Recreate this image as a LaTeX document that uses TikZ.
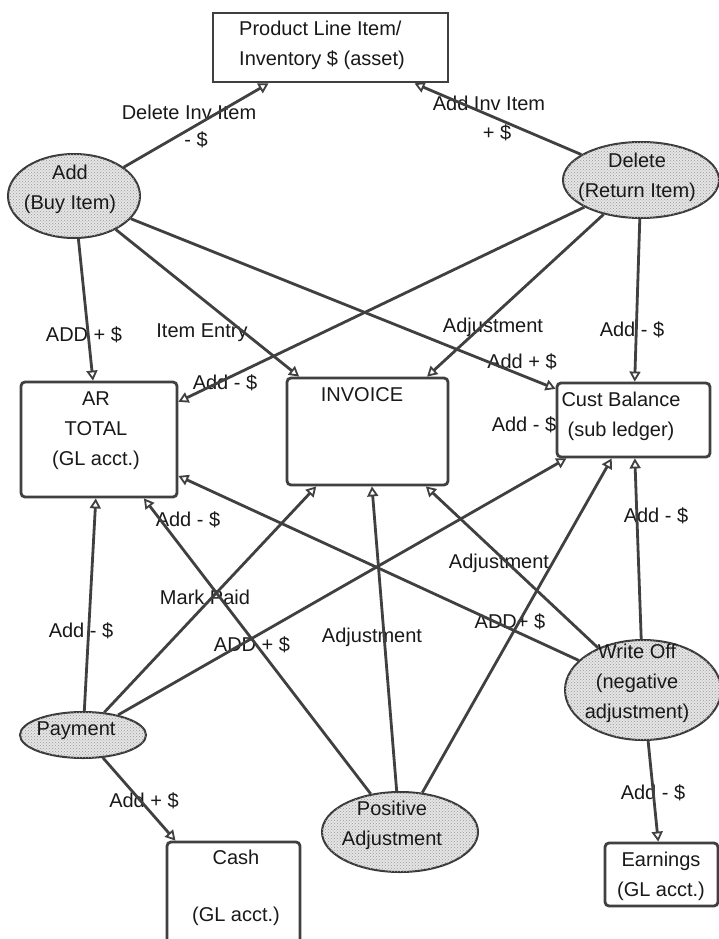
\documentclass[tikz,border=0pt]{standalone}
\usepackage{fontspec}
\setmainfont{Liberation Sans}
\usetikzlibrary{shapes.geometric,arrows.meta,patterns}
\begin{document}
\begin{tikzpicture}[x=1pt,y=-1pt,
  every node/.style={font=\fontsize{20}{30}\selectfont, inner sep=0pt, text=black!90},
  box/.style={draw=black!75, line width=2.8pt, rounded corners=4pt, fill=white},
  oval/.style={ellipse, draw=black!78, line width=2pt, fill=black!10,
    postaction={pattern=crosshatch dots, pattern color=black!40}},
  txt/.style={align=center},
  conn/.style={draw=black!75, line width=2.8pt,
    -{Triangle[open, length=10pt, width=11pt, line width=1.8pt]}}
]
\clip (0,0) rectangle (719,939);
\fill[white] (0,0) rectangle (719,939);

% accounts and documents
\node[box, rounded corners=0pt, minimum width=235pt, minimum height=69pt] (inv) at (330.5,47.5) {};
\node[txt, align=left] (invtxt) at (322,45) {Product Line Item/\\Inventory \$ (asset)};
\node[box, minimum width=156pt, minimum height=115pt] (ar) at (99,439.5) {};
\node[txt] (artxt) at (96,431) {AR\\TOTAL\\(GL acct.)};
\node[box, minimum width=161pt, minimum height=107pt] (invoice) at (367.5,431.5) {};
\node[txt] (invoicetxt) at (362,395) {INVOICE};
\node[box, minimum width=153pt, minimum height=74pt] (cust) at (633.5,420) {};
\node[txt] (custtxt) at (621,416) {Cust Balance\\(sub ledger)};
\node[box, minimum width=113pt, minimum height=63pt] (earn) at (661.5,874.5) {};
\node[txt] (earntxt) at (661,876) {Earnings\\(GL acct.)};
\node[box, minimum width=133pt, minimum height=130pt] (cash) at (233.5,907) {};
\node[txt, font=\fontsize{20}{28.5}\selectfont] (cashtxt) at (236,888) {Cash\\[28.5pt](GL acct.)};

% events
\node[oval, minimum width=132pt, minimum height=84pt] (add) at (74,196) {};
\node[txt] (addtxt) at (70,189) {Add\\(Buy Item)};
\node[oval, minimum width=156pt, minimum height=76pt] (del) at (641,180) {};
\node[txt] (deltxt) at (637,177) {Delete\\(Return Item)};
\node[oval, minimum width=126pt, minimum height=46pt] (pay) at (83,735) {};
\node[txt] (paytxt) at (76,731) {Payment};
\node[oval, minimum width=156pt, minimum height=80pt] (pos) at (400,832) {};
\node[txt] (postxt) at (392,825) {Positive\\Adjustment};
\node[oval, minimum width=156pt, minimum height=100pt] (wo) at (643,690) {};
\node[txt] (wotxt) at (637,683) {Write Off\\(negative\\adjustment)};

% connector labels
\node (l1) at (189,112) {Delete Inv Item};
\node (l2) at (196,140) {- \$};
\node (l3) at (489,103) {Add Inv Item};
\node (l4) at (497,133) {+ \$};
\node (l5) at (84,335) {ADD + \$};
\node (l6) at (202,333) {Item Entry};
\node (l7) at (493,327) {Adjustment};
\node (l8) at (632,330) {Add - \$};
\node (l9) at (522,362) {Add + \$};
\node (l10) at (225,383) {Add - \$};
\node (l11) at (524,425) {Add - \$};
\node (l12) at (188,520) {Add - \$};
\node (l13) at (656,516) {Add - \$};
\node (l14) at (499,563) {Adjustment};
\node (l15) at (81,631) {Add - \$};
\node (l16) at (205,597) {Mark Paid};
\node (l17) at (252,645) {ADD + \$};
\node (l18) at (372,637) {Adjustment};
\node (l19) at (510,622) {ADD+ \$};
\node (l20) at (144,801) {Add + \$};
\node (l21) at (653,793) {Add - \$};

% connectors
\draw[conn] (add) -- (inv);
\draw[conn] (add) -- (ar);
\draw[conn] (add) -- (invoice);
\draw[conn] (add) -- (cust);
\draw[conn] (del) -- (inv);
\draw[conn] (del) -- (ar);
\draw[conn] (del) -- (invoice);
\draw[conn] (del) -- (cust);
\draw[conn] (pay) -- (ar);
\draw[conn] (pay) -- (invoice);
\draw[conn] (pay) -- (cust);
\draw[conn] (pay) -- (cash);
\draw[conn] (pos) -- (ar);
\draw[conn] (pos) -- (invoice);
\draw[conn] (pos) -- (cust);
\draw[conn] (wo) -- (ar);
\draw[conn] (wo) -- (invoice);
\draw[conn] (wo) -- (cust);
\draw[conn] (wo) -- (earn);
\end{tikzpicture}
\end{document}
